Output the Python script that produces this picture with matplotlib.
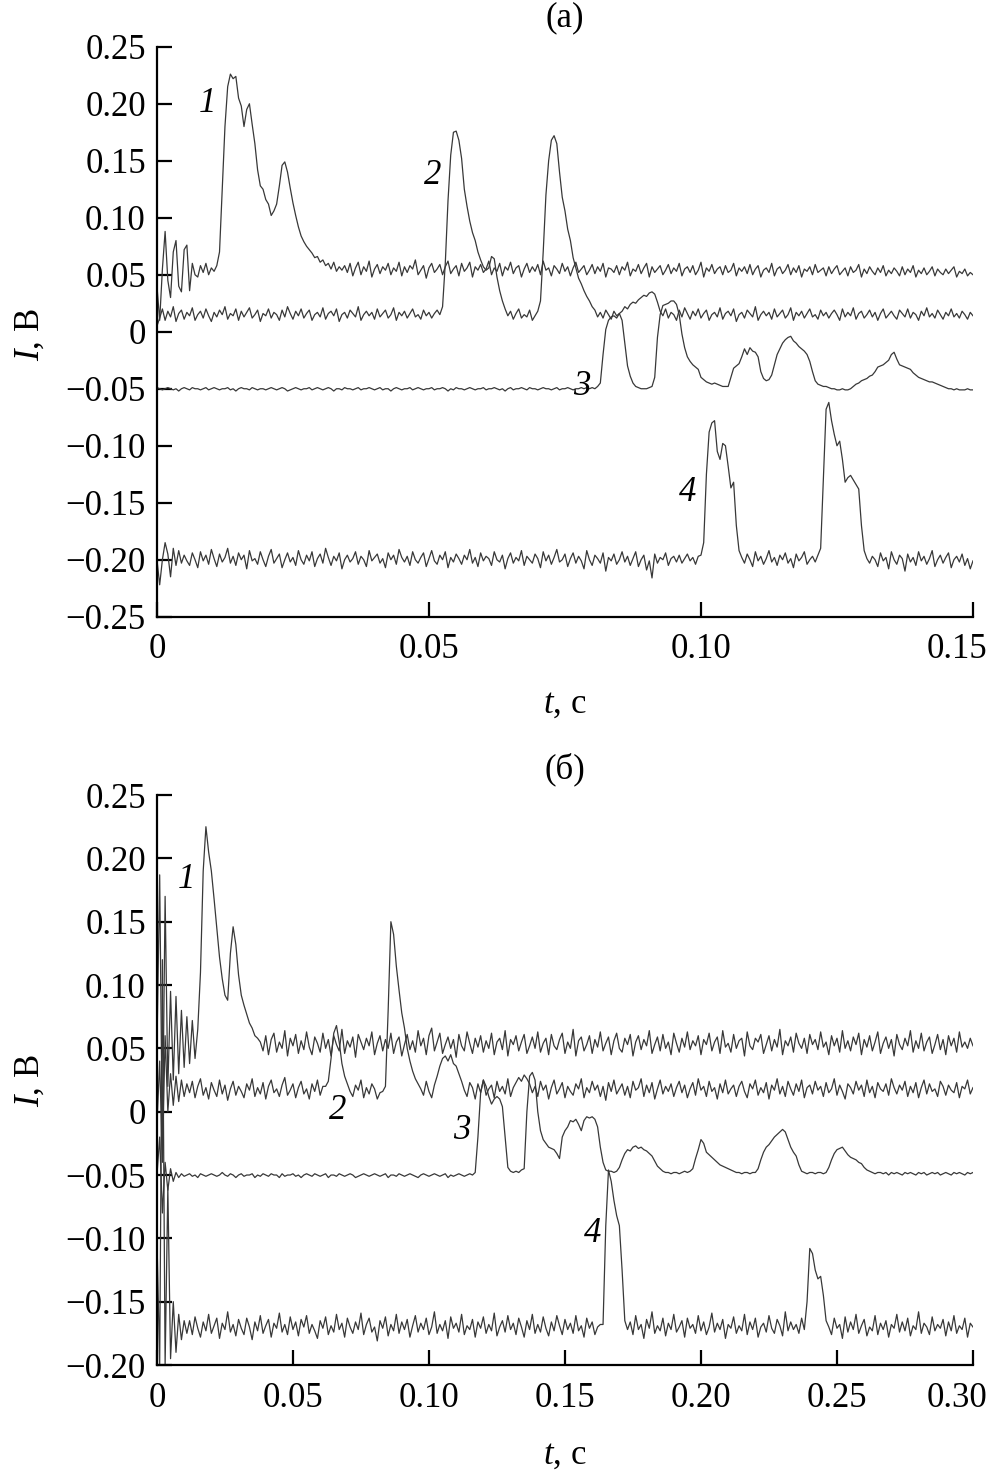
import numpy as np
import matplotlib
matplotlib.use("Agg")
import matplotlib.pyplot as plt
from matplotlib.transforms import ScaledTranslation

plt.rcParams['font.family'] = ['Liberation Serif', 'DejaVu Serif']
plt.rcParams['mathtext.fontset'] = 'custom'
plt.rcParams['mathtext.it'] = 'Liberation Serif:italic'
plt.rcParams['mathtext.rm'] = 'Liberation Serif'

# sampling steps of the two records, s
step_a = 0.0005
step_b = 0.001

# ---- panel (a): signals in mV, one value per step_a ----
a1 = [40, 10, 55, 88, 45, 30, 70, 80, 40, 35, 72, 76, 36, 60, 50, 48, 58, 52, 60, 50,
      56, 53, 58, 70, 125, 180, 215, 226, 222, 224, 205, 198, 180, 195, 200, 182, 165, 142, 128, 125,
      116, 112, 102, 106, 112, 128, 146, 149, 140, 126, 113, 102, 92, 84, 79, 75, 72, 69, 65, 66,
      61, 63, 58, 60, 55, 61, 53, 57, 54,
      58, 52, 60, 49, 56, 61, 50, 57, 53, 62, 48, 55, 59, 51, 57, 54, 60, 50, 56, 53,
      61, 49, 57, 52, 58, 55, 63, 50, 54, 58, 47, 56, 60, 52, 55, 59, 50, 57, 62, 51,
      55, 58, 49, 60, 53, 56, 61, 48, 57, 54, 59, 52, 55, 62, 50, 56, 53, 60, 49, 57,
      54, 61, 51, 56, 58, 48, 55, 60, 52, 57, 53, 59, 50, 62, 54, 56, 49, 58, 55, 51,
      60, 53, 57, 49, 56, 61, 52, 55, 58, 50, 54, 59, 51, 57, 53, 60, 48, 56, 55, 52,
      58, 50, 57, 54, 61, 49, 55, 53, 59, 51, 56, 60, 48, 57, 52, 55, 58, 50, 54, 59,
      51, 56, 53, 60, 49, 55, 57, 52, 58, 50, 54, 61, 48, 56, 53, 59, 51, 55, 57, 50,
      58, 52, 54, 60, 49, 56, 53, 57, 51, 59, 50, 55, 58, 48, 54, 56, 52, 60, 49, 55,
      57, 51, 54, 59, 50, 56, 52, 58, 48, 55, 53, 57, 50, 59, 52, 54, 56, 49, 57, 51,
      55, 58, 50, 53, 56, 49, 57, 52, 54, 59, 48, 55, 51, 57, 53, 50, 56, 52, 58, 49,
      54, 51, 56, 53, 49, 57, 50, 55, 52, 58, 48, 54, 51, 56, 50, 53, 57, 49, 55, 52,
      50, 55, 51, 54, 57, 48, 53, 51, 55, 49, 52, 50]

a2 = [5, 12, 20, 10, 18, 13, 22, 9, 16, 19, 11, 17, 14, 21, 10, 15, 18, 12, 20, 14,
      9, 17, 13, 19, 15, 22, 11, 16, 14, 20, 10, 18, 13, 17, 21, 12, 15, 19, 9, 16,
      14, 20, 12, 17, 15, 10, 19, 13, 22, 16, 11, 18, 14, 20, 12, 16, 19, 10, 15, 17,
      13, 21, 11, 16, 18, 14, 20, 9, 15, 17, 12, 19, 16, 13, 22, 10, 15, 18, 14, 17,
      11, 20, 13, 16, 19, 12, 15, 21, 10, 17, 14, 18, 12, 16, 20, 13, 15, 11, 19, 14,
      17, 12, 16, 19, 15,
      22, 60, 115, 155, 175, 176, 168, 152, 125, 110, 97, 87, 80, 70, 63, 57, 54, 56, 66, 64,
      48, 36, 27, 20,
      14, 18, 11, 16, 20, 12, 15, 13, 19, 10, 14,
      18, 27, 70, 120, 150, 168, 172, 165, 140, 118, 106, 90, 80, 65, 56, 47, 42, 36, 31, 27,
      22, 19,
      13, 17, 12, 19, 15, 11, 18, 14, 16,
      18, 22, 20, 24, 26, 25, 28, 30, 32, 31, 34, 35, 33, 26, 18,
      14, 20, 12, 17, 15, 10, 19, 13, 21, 16, 11, 18, 14, 20, 12, 16, 19, 10, 15, 17,
      13, 21, 11, 16, 18, 14, 20, 9, 15, 17, 12, 19, 16, 13, 22, 10, 15, 18, 14, 17,
      11, 20, 13, 16, 19, 12, 15, 21, 10, 17, 14, 18, 12, 16, 20, 13, 15, 11, 19, 14,
      17, 12, 16, 19, 15, 10, 20, 13, 17, 14, 21, 11, 16, 18, 12, 15, 19, 13, 17, 10,
      16, 20, 12, 15, 18, 14, 11, 19, 16, 13, 20, 12, 17, 15, 10, 18, 14, 21, 13, 16,
      12, 19, 15, 11, 17, 14, 20, 13, 16, 12, 18, 15, 11, 17, 14]

a3 = [-49, -50, -51, -50, -49, -50, -51, -50, -52, -50, -49, -50, -51, -49, -50, -50, -51, -50, -49, -51,
      -50, -49, -50, -51, -50, -50, -49, -51, -50, -52, -50, -49, -50, -50, -51, -49, -50, -51, -50, -50,
      -51, -50, -49, -50, -51, -50, -49, -50, -52, -51, -50, -49, -50, -51, -50, -50, -49, -51, -50, -49,
      -50, -51, -50, -49, -50, -52, -50, -50, -51, -49, -50, -50, -51, -50, -49, -51, -50, -50, -49, -50,
      -51, -50, -49, -51, -50, -50, -52, -50, -49, -50, -51, -50, -50, -49, -51, -50, -49, -50, -51, -50,
      -50, -49, -51, -50, -50, -49, -50, -52, -50, -51, -49, -50, -50, -51, -50, -49, -50, -51, -50, -50,
      -49, -51, -50, -50, -49, -50, -51, -50, -52, -50, -49, -51, -50, -50, -49, -50, -51, -49, -50, -50,
      -51, -50, -49, -50, -50, -51, -50, -49, -51, -50, -50, -49, -50, -51, -50, -50, -49, -50, -49, -50,
      -49, -50,
      -48, -45, -20, 2, 10, 13, 14, 12, 16, 10, -10, -30, -39, -45, -48, -49, -50, -50, -50, -49,
      -48, -40, -5, 15, 23, 24, 25, 27, 27, 24, 15, -2, -14, -22, -26, -29, -31, -33, -40, -42,
      -44, -45, -46, -45, -46, -47, -48, -48, -48, -40, -32, -30, -28, -22, -15, -20, -14, -17, -18, -22,
      -35, -41, -43, -42, -38, -29, -20, -15, -10, -7, -5, -4, -8, -10, -13, -15, -17, -20, -26, -35,
      -43, -46, -47, -48, -48, -49, -50, -50, -51, -51, -50, -51, -51, -50, -48, -46, -45, -43, -42, -41,
      -39, -38, -35, -31, -30, -29, -27, -25, -20, -18, -24, -29, -30, -31, -32, -33, -36, -38, -40, -41,
      -42, -43, -44, -44, -45, -46, -47, -48, -49, -50, -50, -51, -50, -51, -51, -51, -50, -51, -51]

a4 = [-200, -222, -200, -185, -195, -215, -190, -205, -192, -203, -196, -201,
      -205, -194, -200, -207, -193, -201, -196, -204, -191, -199, -206, -195, -202, -198, -190, -203, -197, -205, -194, -200,
      -196, -208, -192, -201, -199, -204, -193, -200, -206, -197, -191, -203, -199, -195, -207, -200, -194, -202, -198, -205,
      -192, -200, -204, -196, -201, -193, -206, -199, -195, -203, -190, -198, -205, -197, -201, -194, -208, -200, -196, -202,
      -199, -193, -204, -197, -200, -206, -192, -201, -198, -195, -203, -199, -207, -194, -200, -196, -204, -191, -198, -202,
      -197, -205, -193, -200, -203, -198, -194, -206, -199, -192, -201, -204, -196, -200, -193, -207, -198, -202, -195, -199,
      -204, -196, -200, -191, -203, -198, -206, -194, -201, -197, -199, -205, -193, -200, -202, -196, -208, -199, -194, -203,
      -198, -201, -192, -205, -197, -200, -203, -195, -199, -207, -193, -201, -196, -204, -198, -191, -202, -200, -195, -206,
      -199, -194, -203, -197, -201, -208, -192, -200, -205, -196, -199, -203, -194, -210, -198, -201, -195, -204, -200, -193,
      -202, -197, -205, -199, -193, -206, -200, -196, -209, -201, -216, -195, -203, -198, -200, -194, -205, -199, -197, -202,
      -196, -203, -199, -195, -201, -198, -204, -197,
      -196, -185, -125, -88, -80, -78, -105, -112, -98, -100, -118, -137, -132, -170, -192, -198,
      -203, -195, -200, -206, -193, -201, -197, -204, -199, -192, -202, -198, -205, -196, -200, -194, -203, -199, -207, -195,
      -201, -198, -193, -204, -200, -197, -202, -196,
      -190, -130, -68, -62, -78, -90, -100, -96, -112, -132, -128, -126, -130, -134, -138, -170, -192, -199,
      -203, -197, -200, -206, -194, -201, -198, -208, -193, -200, -204, -196, -199, -210, -195, -202, -198, -205, -193, -201,
      -197, -204, -199, -192, -206, -200, -196, -203, -198, -194, -207, -200, -197, -202, -195, -205, -199, -208, -201]

# ---- panel (б): signals in mV, one value per step_b ----
b1 = [50, 187, -30, 170, 20, 95, 25, 91, 30, 80, 35, 75, 38, 72, 42,
      65, 110, 190, 225, 205, 190, 168, 145, 122, 105, 92, 88, 125, 146, 132, 108, 92, 84, 77, 70,
      66, 60, 58, 55,
      48, 60, 45, 57, 62, 47, 55, 50, 64, 44, 58, 52, 61, 46, 56, 49, 63, 51, 45, 59,
      54, 47, 62, 50, 57, 44, 60, 53, 48, 65, 46, 56, 51, 59, 43, 61, 55, 49, 58, 52,
      63, 45, 54, 60, 48, 57, 50, 62, 46, 55, 59, 44, 53, 61, 49, 56, 47, 64, 52, 58,
      45, 60, 66, 48, 55, 62, 46, 53, 59, 50, 57, 43, 61, 52, 48, 63, 54, 46, 58, 51,
      60, 47, 56, 50, 62, 45, 55, 58, 49, 64, 44, 57, 53, 60, 48, 55, 61, 46, 52, 59,
      50, 63, 47, 54, 58, 45, 61, 52, 49, 57, 62, 46, 55, 50, 65, 44, 56, 59, 48, 53,
      60, 46, 57, 51, 63, 48, 54, 59, 45, 56, 62, 50, 47, 58, 53, 61, 44, 55, 60, 49,
      57, 52, 64, 46, 53, 59, 48, 61, 50, 55, 45, 62, 54, 47, 58, 51, 63, 49, 56, 52,
      60, 45, 57, 53, 62, 48, 55, 59, 46, 64, 51, 54, 47, 61, 50, 56, 58, 44, 63, 52,
      49, 58, 55, 61, 46, 53, 60, 48, 57, 51, 65, 45, 56, 52, 59, 47, 62, 54, 50, 58,
      46, 61, 53, 57, 49, 63, 51, 55, 45, 60, 52, 58, 47, 64, 50, 56, 48, 59, 53, 62,
      45, 57, 51, 60, 48, 55, 63, 46, 54, 59, 50, 57, 44, 61, 53, 49, 58, 52, 64, 47,
      56, 50, 62, 48, 55, 59, 46, 53, 61, 49, 57, 45, 60, 52, 58, 47, 63, 51, 55, 50,
      58, 52]

b2 = [-10, 40, -40, 60, 0, 30, 5, 28, 8, 25, 12, 22,
      15, 24, 11, 20, 26, 13, 19, 10, 23, 17, 12, 25, 14, 21, 9, 18, 24, 13, 20, 16,
      11, 22, 17, 26, 12, 19, 14, 23, 10, 20, 25, 15, 18, 12, 21, 27, 13, 17, 22, 11,
      19, 24, 14, 18, 10, 22, 16, 25, 13, 20,
      20, 24, 42, 62, 68, 55, 38, 28, 22,
      16, 12, 21, 17, 25, 11, 19, 14, 22, 18, 10, 15,
      16, 20, 80, 150, 140, 115, 96, 78, 66, 50, 40, 32, 26, 22,
      18, 13, 24, 16, 11, 21,
      28, 36, 42, 44, 40, 45, 38, 36, 30, 24,
      17, 12, 23, 19, 10, 22, 15, 25, 13, 18, 21, 11, 24, 16, 20, 14, 26, 12, 19, 23,
      27, 24, 29, 26, 22, 15, 20, 12, 24, 17, 21, 10, 19, 25, 14, 18, 23, 11, 20, 16,
      13, 22, 18, 26, 11, 19, 15, 24, 17, 21, 12, 20, 9, 23, 16, 25, 14, 18, 22, 13,
      20, 11, 24, 17, 19, 26, 12, 21, 15, 23, 10, 18, 25, 14, 20, 16, 22, 12, 19, 24,
      15, 21, 11, 18, 23, 13, 26, 17, 20, 12, 24, 16, 19, 10, 22, 15, 25, 14, 18, 21,
      12, 20, 24, 16, 11, 22, 18, 25, 13, 19, 15, 23, 10, 21, 17, 26, 14, 20, 12, 24,
      18, 13, 22, 16, 25, 11, 19, 21, 14, 24, 17, 20, 12, 23, 15, 18, 26, 13, 21, 16,
      10, 22, 19, 14, 24, 17, 21, 12, 25, 15, 20, 11, 23, 18, 16, 22, 13, 26, 19, 14,
      21, 17, 24, 12, 20, 15, 23, 11, 19, 25, 14, 22, 16, 18, 12, 24, 20, 13, 21, 17,
      15, 23, 11, 20, 18, 25, 14, 19]

b3 = [-50, -20, -80, -40, -62, -45, -55, -48, -52, -49, -51, -50, -49, -51, -50, -52, -49, -50, -51, -50,
      -49, -50, -51, -50, -48, -50, -51, -49, -50, -52, -50, -49, -51, -50, -50, -49, -52, -50, -51, -49,
      -50, -51, -49, -50, -50, -52, -49, -51, -50, -50, -49, -51, -50, -52, -50, -49, -50, -51, -49, -50,
      -51, -50, -49, -52, -50, -50, -51, -49, -50, -51, -50, -49, -50, -52, -51, -50, -49, -50, -51, -50,
      -49, -50, -51, -50, -49, -52, -50, -50, -51, -49, -50, -51, -50, -49, -50, -51, -52, -50, -49, -50,
      -51, -50, -49, -50, -51, -50, -49, -52, -50, -51, -50, -49, -50, -51, -50, -49, -50,
      -48, -20, 15, 25, 20, 12, 6, 10, 12, 10, 4, -20, -44, -47, -48, -47, -48, -46, -45, 0,
      28, 31, 25, 0, -15, -22, -25, -28, -29, -30, -33, -37, -20, -15, -12, -7, -8, -6, -10, -15,
      -7, -4, -5, -4, -6, -12, -28, -40, -46, -47, -47, -48, -47, -44, -38, -33, -30, -31, -28, -27,
      -29, -28, -30, -31, -33, -35, -39, -43, -45, -47, -48, -48, -49, -48, -48, -49, -48, -47, -48, -47,
      -45, -37, -30, -22, -25, -32, -34, -36, -38, -40, -42, -43, -44, -45, -46, -47, -48, -48, -49, -48,
      -48, -49, -48, -48, -45, -38, -32, -28, -26, -23, -20, -18, -16, -14, -16, -22, -28, -32, -35, -42,
      -47, -48, -49, -48, -48, -49, -48, -48, -49, -48, -44, -38, -33, -30, -29, -28, -31, -34, -36, -37,
      -38, -40, -41, -44, -46, -47, -48, -49, -48, -48, -49, -48, -50, -48, -49, -48, -49, -50, -48, -49,
      -48, -49, -50, -48, -49, -48, -50, -49, -48, -49, -48, -50, -49, -48, -49, -50, -48, -49, -48, -49,
      -50, -48, -49, -48]

b4 = [-100, -200, 120, -200, -60, -195, -150, -190, -160, -180, -165, -175,
      -165, -176, -162, -171, -178, -166, -173, -160, -175, -169, -163, -179, -167, -172, -158, -174, -168, -177, -164, -171,
      -176, -163, -170, -180, -166, -173, -161, -175, -169, -164, -178, -167, -171, -159, -174, -168, -176, -162, -172, -166,
      -177, -164, -170, -161, -175, -168, -173, -179, -165, -171, -162, -176, -169, -174, -160, -172, -167, -178, -163, -170,
      -175, -166, -172, -159, -176, -168, -163, -174, -170, -181, -165, -171, -162, -177, -168, -173, -160, -175, -166, -172,
      -164, -178, -169, -161, -174, -167, -172, -163, -176, -170, -158, -175, -168, -173, -165, -179, -162, -171, -167, -174,
      -160, -176, -169, -172, -164, -178, -166, -171, -162, -175, -168, -173, -159, -177, -170, -165, -174, -161, -172, -167,
      -176, -163, -170, -178, -165, -172, -160, -175, -168, -174, -162, -171, -177, -166, -173, -161, -169, -176, -164, -172,
      -167, -175, -161, -173, -169, -178, -163, -171, -166, -176, -170, -168,
      -168, -90, -46, -55, -70, -82, -90, -125, -165, -172,
      -166, -176, -161, -172, -168, -179, -164, -171, -158, -175, -169, -173, -163, -177, -167, -172, -160, -174, -170, -165,
      -178, -163, -171, -168, -175, -161, -173, -166, -176, -170, -159, -174, -167, -172, -164, -179, -168, -171, -162, -175,
      -169, -173, -160, -176, -166, -172, -163, -178, -170, -167, -174, -161, -171, -175, -164, -169, -177, -158, -173, -166,
      -172, -168, -175, -163,
      -172, -150, -108, -112, -125, -132, -130, -145, -165, -170,
      -176, -163, -171, -168, -179, -162, -174, -166, -172, -160, -175, -169, -164, -177, -170, -173, -161, -176, -167, -172,
      -165, -178, -168, -171, -160, -174, -166, -173, -163, -177, -169, -172, -158, -175, -167, -170, -176, -162, -173, -168,
      -171, -164, -177, -166, -173, -161, -175, -169, -172, -163, -178, -167, -170]

# axis ticks and labels
ya_ticks = [0.25, 0.20, 0.15, 0.10, 0.05, 0, -0.05, -0.10, -0.15, -0.20, -0.25]
ya_labels = ['0.25', '0.20', '0.15', '0.10', '0.05', '0',
             '\u22120.05', '\u22120.10', '\u22120.15', '\u22120.20', '\u22120.25']
xa_ticks = [0, 0.05, 0.10, 0.15]
xa_labels = ['0', '0.05', '0.10', '0.15']
yb_ticks = ya_ticks[:-1]
yb_labels = ya_labels[:-1]
xb_ticks = [0, 0.05, 0.10, 0.15, 0.20, 0.25, 0.30]
xb_labels = ['0', '0.05', '0.10', '0.15', '0.20', '0.25', '0.30']

# curve numbers: (text, t, I)
marks_a = [('1', 0.0092, 0.200), ('2', 0.0506, 0.137), ('3', 0.0781, -0.048), ('4', 0.0976, -0.141)]
marks_b = [('1', 0.011, 0.183), ('2', 0.0665, 0.001), ('3', 0.112, -0.015), ('4', 0.160, -0.096)]

FS = 25
LINE = '#383838'


def draw(ax, curves, step, xlim, ylim, xt, xl, yt, yl, marks):
    for c in curves:
        v = np.array(c) / 1000.0
        t = np.arange(len(v)) * step
        ax.plot(t, v, color=LINE, lw=0.9)
    ax.set_xlim(*xlim)
    ax.set_ylim(*ylim)
    ax.spines['top'].set_visible(False)
    ax.spines['right'].set_visible(False)
    for s in ['left', 'bottom']:
        ax.spines[s].set_linewidth(1.6)
    ax.set_xticks(xt)
    ax.set_xticklabels(xl)
    ax.set_yticks(yt)
    ax.set_yticklabels(yl)
    ax.tick_params(direction='in', length=11, width=1.6, labelsize=FS)
    ax.tick_params(axis='x', pad=12)
    ax.tick_params(axis='y', pad=8)
    # last x label sits against the right edge of the page
    last = ax.get_xticklabels()[-1]
    last.set_transform(last.get_transform() +
                       ScaledTranslation(-0.16, 0, ax.figure.dpi_scale_trans))
    for txt, tx, ty in marks:
        ax.text(tx, ty, txt, fontsize=FS, style='italic', ha='center', va='center')


fig = plt.figure(figsize=(9.89, 14.8), dpi=100)
ax_a = fig.add_axes([0.1587, 0.5833, 0.8251, 0.3851])
ax_b = fig.add_axes([0.1587, 0.0777, 0.8251, 0.3851])

draw(ax_a, [a1, a2, a3, a4], step_a, (0, 0.15), (-0.25, 0.25),
     xa_ticks, xa_labels, ya_ticks, ya_labels, marks_a)
draw(ax_b, [b1, b2, b3, b4], step_b, (0, 0.30), (-0.20, 0.25),
     xb_ticks, xb_labels, yb_ticks, yb_labels, marks_b)

fig.text(0.571, 0.988, '(a)', fontsize=FS, ha='center', va='center')
fig.text(0.571, 0.480, '(\u0431)', fontsize=FS, ha='center', va='center')
fig.text(0.571, 0.524, '$t$, \u0441', fontsize=FS, ha='center', va='center')
fig.text(0.571, 0.017, '$t$, \u0441', fontsize=FS, ha='center', va='center')
fig.text(0.031, 0.774, '$I$, \u0412', fontsize=FS, rotation=90, ha='center', va='center')
fig.text(0.031, 0.270, '$I$, \u0412', fontsize=FS, rotation=90, ha='center', va='center')

fig.savefig('out.png', dpi=100)
